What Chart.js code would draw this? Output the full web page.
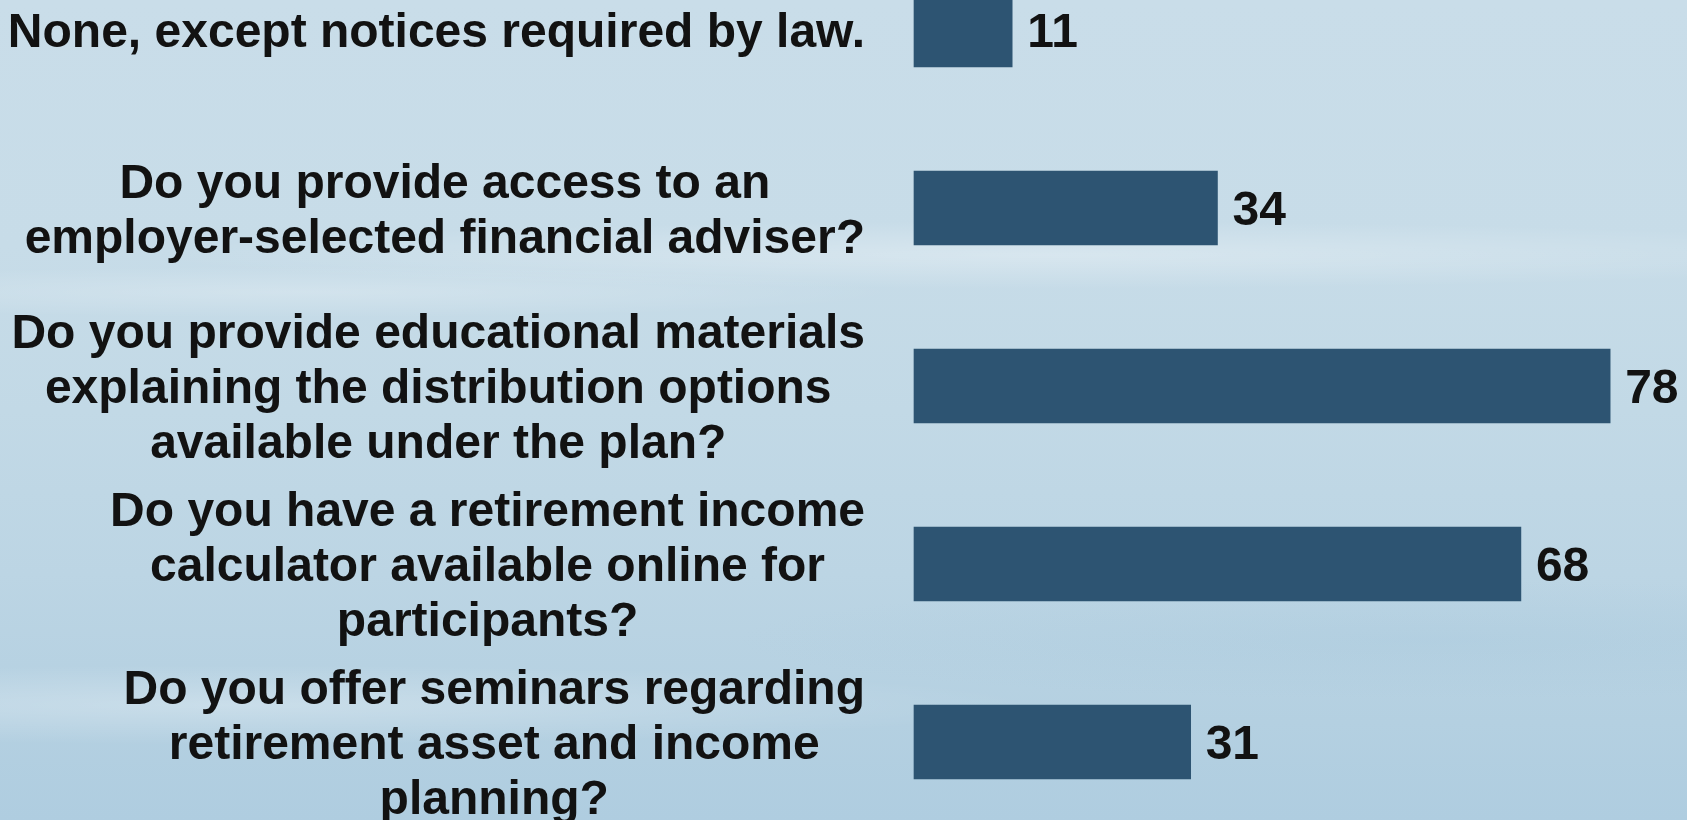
<!DOCTYPE html>
<html>
<head>
<meta charset="utf-8">
<title>Retirement income survey</title>
<script src="https://cdn.jsdelivr.net/npm/chart.js@4.4.1/dist/chart.umd.min.js"></script>
<style>
  html, body {
    margin: 0;
    padding: 0;
    width: 1687px;
    height: 820px;
    overflow: hidden;
  }
  body {
    background:
      radial-gradient(ellipse 900px 34px at 62% 255px, rgba(255,255,255,0.30), rgba(255,255,255,0) 100%),
      radial-gradient(ellipse 600px 26px at 18% 292px, rgba(255,255,255,0.22), rgba(255,255,255,0) 100%),
      radial-gradient(ellipse 800px 40px at 14% 705px, rgba(255,255,255,0.28), rgba(255,255,255,0) 100%),
      radial-gradient(ellipse 700px 60px at 85% 640px, rgba(160,196,218,0.25), rgba(160,196,218,0) 100%),
      linear-gradient(180deg, #c9dde9 0%, #c7dce8 30%, #c2d9e6 50%, #bcd5e4 70%, #b4d0e1 88%, #afcde0 100%);
  }
  #wrap { position: relative; width: 1687px; height: 820px; }
</style>
</head>
<body>
<div id="wrap"><canvas id="mycanvas" width="1687" height="820"></canvas></div>
<script>
var questions = [
  ['None, except notices required by law.'],
  ['Do you provide access to an', 'employer-selected financial adviser?'],
  ['Do you provide educational materials', 'explaining the distribution options', 'available under the plan?'],
  ['Do you have a retirement income', 'calculator available online for', 'participants?'],
  ['Do you offer seminars regarding', 'retirement asset and income', 'planning?']
];
var responses = [11, 34, 78, 68, 31];

var textFont = 'bold 48px "Liberation Sans", Arial, sans-serif';
var textColor = '#121212';
var barColor = '#2d5472';

// question text is right-aligned as a block, each line centred inside its own block
var questionLabels = {
  id: 'questionLabels',
  afterDraw: function(chart) {
    var ctx = chart.ctx;
    var yScale = chart.scales.y;
    var right = yScale.right - 49;
    var lineGap = 55;
    var capHalf = 17;

    ctx.save();
    ctx.font = textFont;
    ctx.fillStyle = textColor;
    ctx.textBaseline = 'alphabetic';
    ctx.textAlign = 'center';
    chart.data.labels.forEach(function(lines, i) {
      var y = yScale.getPixelForTick(i);
      var widest = 0;
      lines.forEach(function(l) { widest = Math.max(widest, ctx.measureText(l).width); });
      var cx = right - widest / 2;
      lines.forEach(function(line, j) {
        ctx.fillText(line, cx, y + (j - (lines.length - 1) / 2) * lineGap + capHalf);
      });
    });

    // value next to each bar
    ctx.textAlign = 'left';
    chart.getDatasetMeta(0).data.forEach(function(bar, i) {
      ctx.fillText(String(chart.data.datasets[0].data[i]), bar.x + 15, bar.y + capHalf);
    });
    ctx.restore();
  }
};

var ctx = document.getElementById('mycanvas');

var barGraph = new Chart(ctx, {
  type: 'bar',
  data: {
    labels: questions,
    datasets: [{
      data: responses,
      backgroundColor: barColor,
      borderWidth: 0,
      barThickness: 74,
      clip: false
    }]
  },
  options: {
    indexAxis: 'y',
    responsive: false,
    animation: false,
    devicePixelRatio: 1,
    layout: {
      padding: { top: 30, bottom: 78, left: 0, right: 59 }
    },
    plugins: {
      legend: { display: false },
      tooltip: { enabled: false }
    },
    scales: {
      x: {
        type: 'linear',
        min: 0,
        max: 80,
        display: false
      },
      y: {
        type: 'category',
        offset: false,
        grid: { display: false },
        border: { display: false },
        ticks: { display: false },
        afterFit: function(scale) { scale.width = 914; }
      }
    }
  },
  plugins: [questionLabels]
});
</script>
</body>
</html>
